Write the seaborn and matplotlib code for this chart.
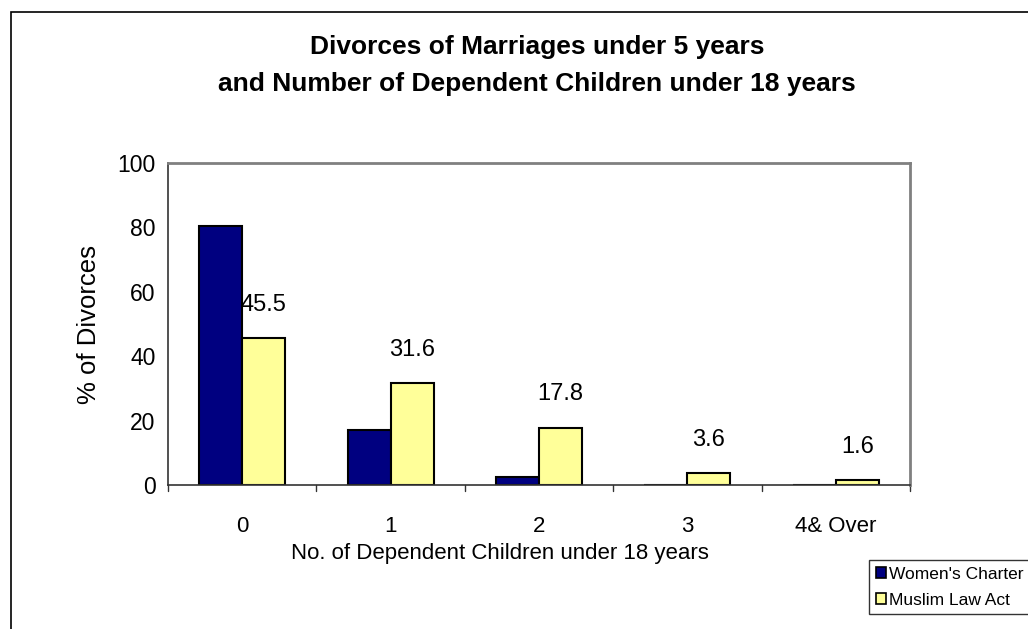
import matplotlib
matplotlib.use("Agg")
import matplotlib.pyplot as plt
import matplotlib.patches as mpatches
import seaborn as sns
import pandas as pd

categories = ["0", "1", "2", "3", "4& Over"]
series_names = ["Women's Charter", "Muslim Law Act"]
womens_charter = [80.4, 17.1, 2.6, 0.0, 0.0]
muslim_law_act = [45.5, 31.6, 17.8, 3.6, 1.6]
colors = ["#000080", "#FFFF99"]

sns.set_theme(style="white")
plt.rcParams['font.family'] = ['Liberation Sans', 'DejaVu Sans']
plt.rcParams['text.color'] = 'black'
plt.rcParams['axes.labelcolor'] = 'black'
plt.rcParams['xtick.color'] = 'black'
plt.rcParams['ytick.color'] = 'black'

df = pd.DataFrame({
    "cat": categories * 2,
    "val": womens_charter + muslim_law_act,
    "series": [series_names[0]] * 5 + [series_names[1]] * 5,
})

W, H = 1028, 629
fig = plt.figure(figsize=(W / 100, H / 100), dpi=100)
fig.patch.set_facecolor("white")
ax = fig.add_axes([168 / W, 1 - 485 / H, (910 - 168) / W, (485 - 163) / H])

sns.barplot(data=df, x="cat", y="val", hue="series", palette=colors,
            order=categories, hue_order=series_names, saturation=1,
            edgecolor="black", linewidth=1.5, width=0.58, gap=0,
            legend=False, ax=ax)

ax.set_ylim(0, 100)
ax.set_xlim(-0.5, 4.5)
ax.set_yticks([0, 20, 40, 60, 80, 100])
ax.set_xticks([0, 1, 2, 3, 4])
ax.set_xticklabels(categories)
ax.tick_params(axis="x", labelsize=16, labelcolor="black", length=0, pad=22)
ax.tick_params(axis="y", labelsize=16.5, labelcolor="black", length=6, width=1,
               color="#333333", direction="out", pad=3)
# boundary ticks on x axis
for b in [-0.5, 0.5, 1.5, 2.5, 3.5, 4.5]:
    ax.plot([b, b], [0, -0.018], transform=ax.get_xaxis_transform(),
            color="#333333", lw=1, clip_on=False)

for s in ["left", "bottom"]:
    ax.spines[s].set_color("#333333")
    ax.spines[s].set_linewidth(1.2)
for s in ["top", "right"]:
    ax.spines[s].set_visible(True)
    ax.spines[s].set_color("#808080")
    ax.spines[s].set_linewidth(2)

ax.set_ylabel("% of Divorces", fontsize=18.5, labelpad=12, color="black")
ax.set_xlabel("No. of Dependent Children under 18 years", fontsize=16, color="black")
ax.xaxis.set_label_coords((500 - 168) / (910 - 168), -(554 - 485) / (485 - 163))
ax.xaxis.label.set_va("center")

ax.bar_label(ax.containers[1], fmt="%.1f", padding=16, fontsize=17, color="black")

fig.text(537 / W, 1 - 47 / H, "Divorces of Marriages under 5 years", ha="center", va="center",
         fontsize=19, fontweight="bold", color="black")
fig.text(537 / W, 1 - 84 / H, "and Number of Dependent Children under 18 years", ha="center", va="center",
         fontsize=19, fontweight="bold", color="black")

handles = [mpatches.Patch(facecolor=c, edgecolor="black", linewidth=1.2) for c in colors]
leg = fig.legend(handles, series_names, loc="upper left",
                 bbox_to_anchor=(869 / W, 1 - 560 / H), frameon=True, fancybox=False,
                 fontsize=12.5, handlelength=0.6, handleheight=0.6, handletextpad=0.2,
                 borderpad=0.38, labelspacing=0.65, borderaxespad=0)
leg.get_frame().set_edgecolor("black")
leg.get_frame().set_linewidth(1)
for t in leg.get_texts():
    t.set_color("black")

border = mpatches.Rectangle((11 / W, -0.1), 1.2, 1 - 12 / H + 0.1, transform=fig.transFigure,
                            fill=False, edgecolor="black", linewidth=1.2)
fig.patches.append(border)

fig.savefig("out.png", dpi=100)
